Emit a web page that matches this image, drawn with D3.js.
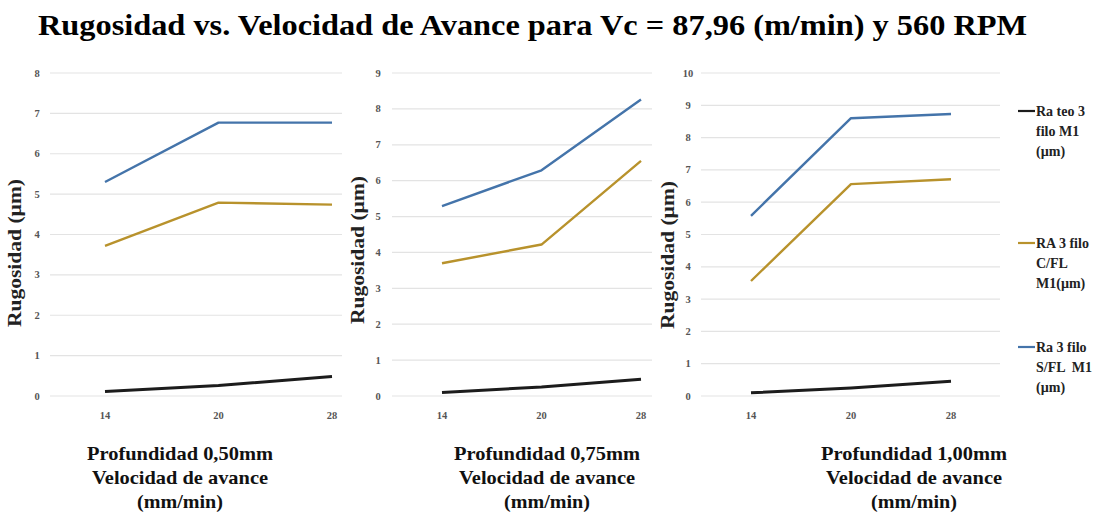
<!DOCTYPE html>
<html><head><meta charset="utf-8">
<script src="https://cdn.jsdelivr.net/npm/d3@7/dist/d3.min.js"></script>
<style>body{margin:0;background:#fff}svg{display:block}text{font-family:"Liberation Serif","Times New Roman",serif;font-weight:bold}</style>
</head><body>
<svg id="c" width="1098" height="516"></svg>
<script>
const categories = ["14","20","28"];
const seriesNames = ["Ra teo 3 filo M1 (µm)","RA 3 filo C/FL M1(µm)","Ra 3 filo S/FL  M1 (µm)"];
const panelTitles = ["Profundidad 0,50mm","Profundidad 0,75mm","Profundidad 1,00mm"];
const yMax = [8, 9, 10];
// values per panel: [teo, C/FL, S/FL]
const p050_teo = [0.11, 0.26, 0.48];
const p050_cfl = [3.72, 4.79, 4.74];
const p050_sfl = [5.30, 6.77, 6.77];
const p075_teo = [0.10, 0.25, 0.47];
const p075_cfl = [3.70, 4.22, 6.55];
const p075_sfl = [5.29, 6.29, 8.26];
const p100_teo = [0.10, 0.25, 0.46];
const p100_cfl = [3.56, 6.56, 6.71];
const p100_sfl = [5.58, 8.60, 8.73];

const colors = ["#1c1c1c", "#b8922c", "#4474aa"];
const widths = [3, 2.4, 2.4];

const panelData = [
  [p050_teo, p050_cfl, p050_sfl],
  [p075_teo, p075_cfl, p075_sfl],
  [p100_teo, p100_cfl, p100_sfl]
];
const layout = [
  {g0:50, g1:342, x0:105, x1:332, ylab:37, ytitle:21, ycenter:253, xcenter:180},
  {g0:392, g1:652, x0:442, x1:641, ylab:378, ytitle:364, ycenter:250, xcenter:547},
  {g0:701, g1:1000, x0:751, x1:951, ylab:688, ytitle:674, ycenter:255, xcenter:914}
];
const yTop = 73, yBot = 396;

const svg = d3.select("#c");
svg.append("text").attr("x", 38).attr("y", 35).attr("font-size", 30)
  .attr("textLength", 989).attr("lengthAdjust", "spacingAndGlyphs")
  .text("Rugosidad vs. Velocidad de Avance para Vc = 87,96 (m/min) y 560 RPM");

panelData.forEach((series, i) => {
  const L = layout[i];
  const x = d3.scalePoint().domain(categories).range([L.x0, L.x1]);
  const y = d3.scaleLinear().domain([0, yMax[i]]).range([yBot, yTop]);
  const g = svg.append("g");
  const ticks = d3.range(0, yMax[i] + 1);
  g.selectAll("line.grid").data(ticks).join("line")
    .attr("x1", L.g0).attr("x2", L.g1)
    .attr("y1", d => y(d)).attr("y2", d => y(d))
    .attr("stroke", "#e3e3e3").attr("stroke-width", 1.2);
  g.selectAll("text.yt").data(ticks).join("text")
    .attr("x", L.ylab).attr("y", d => y(d) + 3.5)
    .attr("text-anchor", "middle").attr("font-size", 10.5).attr("fill", "#555")
    .text(d => d);
  g.selectAll("text.xt").data(categories).join("text")
    .attr("x", d => x(d)).attr("y", 419)
    .attr("text-anchor", "middle").attr("font-size", 10.5).attr("fill", "#555")
    .text(d => d);
  g.append("text")
    .attr("transform", `translate(${L.ytitle},${L.ycenter}) rotate(-90)`)
    .attr("text-anchor", "middle").attr("font-size", 18).attr("fill", "#222")
    .attr("textLength", 148).attr("lengthAdjust", "spacingAndGlyphs")
    .text("Rugosidad (µm)");
  const line = d3.line().x((d, j) => x(categories[j])).y(d => y(d));
  series.forEach((vals, s) => {
    g.append("path").datum(vals).attr("d", line)
      .attr("fill", "none").attr("stroke", colors[s]).attr("stroke-width", widths[s])
      .attr("stroke-linejoin", "round");
  });
  const xl = [panelTitles[i], "Velocidad de avance", "(mm/min)"];
  const xw = [186, 176, 86];
  xl.forEach((t, k) => {
    g.append("text").attr("x", L.xcenter).attr("y", 460 + k * 24)
      .attr("text-anchor", "middle").attr("font-size", 19.5).attr("fill", "#111")
      .attr("textLength", xw[k]).attr("lengthAdjust", "spacingAndGlyphs")
      .text(t);
  });
});

// legend
const legendLines = [
  ["Ra teo 3", "filo M1", "(µm)"],
  ["RA 3 filo", "C/FL", "M1(µm)"],
  ["Ra 3 filo", "S/FL  M1", "(µm)"]
];
const legendY = [111, 243, 347];
legendLines.forEach((lines, s) => {
  svg.append("line").attr("x1", 1018).attr("x2", 1035)
    .attr("y1", legendY[s]).attr("y2", legendY[s])
    .attr("stroke", colors[s]).attr("stroke-width", 2.2);
  lines.forEach((t, k) => {
    svg.append("text").attr("x", 1036).attr("y", legendY[s] + 5 + k * 20)
      .attr("font-size", 14).attr("fill", "#222")
      .style("white-space", "pre")
      .text(t);
  });
});
</script>
</body></html>
